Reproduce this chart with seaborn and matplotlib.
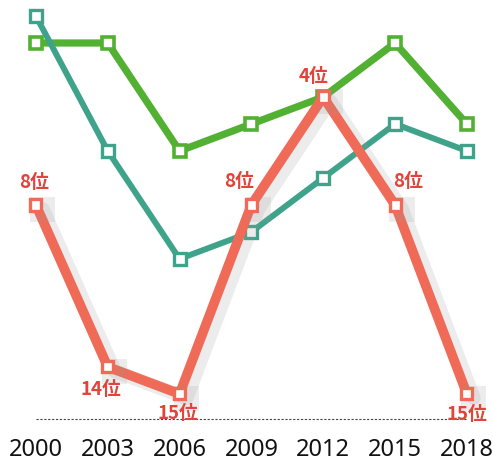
import matplotlib
matplotlib.use('Agg')
import matplotlib.pyplot as plt
import matplotlib.patheffects as pe
import seaborn as sns
import pandas as pd

years = [2000, 2003, 2006, 2009, 2012, 2015, 2018]
green_rank = [2, 2, 6, 5, 4, 2, 5]
teal_rank = [1, 6, 10, 9, 7, 5, 6]
red_rank = [8, 14, 15, 8, 4, 8, 15]
red_labels = ['8位', '14位', '15位', '8位', '4位', '8位', '15位']
label_offsets = [(-1.5, 16.5), (-5, -16.5), (-1, -14), (-9, 17), (-7, 14.5), (9, 17), (0, -15)]

sns.set_style('white')
plt.rcParams['font.family'] = ['Noto Sans CJK JP', 'DejaVu Sans']

fig = plt.figure(figsize=(4.93, 4.62), dpi=100)
ax = fig.add_axes([0, 43 / 462, 1, 419 / 462])

df_g = pd.DataFrame({'year': years, 'rank': green_rank})
df_t = pd.DataFrame({'year': years, 'rank': teal_rank})
df_r = pd.DataFrame({'year': years, 'rank': red_rank})

green = '#52b032'
teal = '#3fa38c'
red = '#ef6b57'

sns.lineplot(data=df_g, x='year', y='rank', ax=ax, color=green, lw=5.2,
             marker='s', markersize=8.5, markerfacecolor='white',
             markeredgecolor=green, markeredgewidth=2.6, zorder=2)
sns.lineplot(data=df_t, x='year', y='rank', ax=ax, color=teal, lw=4.3,
             marker='s', markersize=8, markerfacecolor='white',
             markeredgecolor=teal, markeredgewidth=2.4, zorder=3)
sns.lineplot(data=df_r, x='year', y='rank', ax=ax, color=red, lw=7,
             marker='s', markersize=8, markerfacecolor='white',
             markeredgecolor=red, markeredgewidth=2.4, zorder=4)
red_line = ax.lines[-1]
red_line.set_solid_joinstyle('round')
red_line.set_path_effects([
    pe.SimpleLineShadow(offset=(5, -3), shadow_color='#999999', alpha=0.18, linewidth=10),
    pe.Normal()])

for x, y, t, off in zip(years, red_rank, red_labels, label_offsets):
    ax.annotate(t, (x, y), xytext=off, textcoords='offset points',
                ha='center', va='center', color='#e0443a', fontsize=13.5,
                fontweight='bold', zorder=5)

base = 15.93
ax.hlines(base, years[0], years[-1], colors='#444444', linestyles=(0, (2, 1.5)),
          lw=0.8, zorder=1, clip_on=False)

ax.set_xlim(1998.5, 2019.09)
ax.set_ylim(base, 0.407)
ax.set_xticks(years)
ax.set_xticklabels([str(y) for y in years], fontsize=17, color='#111111',
                   family=['Noto Sans', 'DejaVu Sans'])
ax.tick_params(axis='x', length=0, pad=14)
ax.set_yticks([])
ax.set_xlabel('')
ax.set_ylabel('')
for s in ax.spines.values():
    s.set_visible(False)

fig.savefig('out.png', dpi=100)
